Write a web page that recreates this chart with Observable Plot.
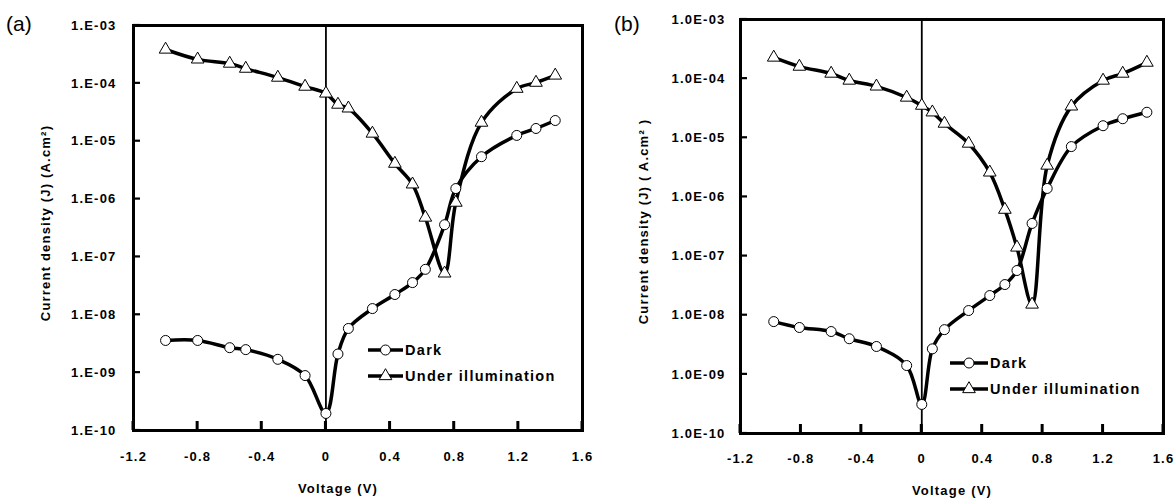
<!DOCTYPE html>
<html>
<head>
<meta charset="utf-8">
<script src="https://cdn.jsdelivr.net/npm/d3@7"></script>
<script src="https://cdn.jsdelivr.net/npm/@observablehq/plot@0.6"></script>
<style>
  html, body { margin: 0; padding: 0; background: #fff; }
  #root { position: relative; width: 1175px; height: 500px; overflow: hidden; font-family: "Liberation Sans", Arial, sans-serif; }
  .panel { position: absolute; top: 0; }
  .panel svg { overflow: visible; }
  .plabel { position: absolute; font-size: 21px; font-family: "Liberation Sans", Arial, sans-serif; color: #000; line-height: 1; }
  #overlay { position: absolute; left: 0; top: 0; pointer-events: none; }
</style>
</head>
<body>
<div id="root"></div>
<script>
// ---- data ----
const voltageA = [-1.0, -0.8, -0.6, -0.5, -0.3, -0.13, 0, 0.075, 0.14, 0.29, 0.43, 0.54, 0.62, 0.74, 0.81, 0.97, 1.19, 1.31, 1.43];
const darkA    = [3.6e-9, 3.6e-9, 2.7e-9, 2.5e-9, 1.7e-9, 8.9e-10, 1.97e-10, 2.1e-9, 5.8e-9, 1.28e-8, 2.24e-8, 3.6e-8, 6.1e-8, 3.6e-7, 1.52e-6, 5.4e-6, 1.26e-5, 1.66e-5, 2.28e-5];
const lightA   = [3.85e-4, 2.6e-4, 2.2e-4, 1.8e-4, 1.26e-4, 8.8e-5, 6.7e-5, 4.3e-5, 3.7e-5, 1.36e-5, 4.1e-6, 1.8e-6, 4.8e-7, 5.2e-8, 8.7e-7, 2.1e-5, 8.1e-5, 1.03e-4, 1.37e-4];

const voltageB = [-0.98, -0.81, -0.6, -0.48, -0.3, -0.1, 0, 0.07, 0.15, 0.31, 0.45, 0.55, 0.63, 0.73, 0.83, 0.99, 1.2, 1.33, 1.49];
const darkB    = [7.8e-9, 6.2e-9, 5.3e-9, 4.0e-9, 2.96e-9, 1.41e-9, 3.1e-10, 2.7e-9, 5.7e-9, 1.2e-8, 2.15e-8, 3.3e-8, 5.7e-8, 3.56e-7, 1.39e-6, 7.1e-6, 1.6e-5, 2.1e-5, 2.7e-5];
const lightB   = [2.28e-4, 1.6e-4, 1.22e-4, 9.3e-5, 7.4e-5, 4.8e-5, 3.5e-5, 2.7e-5, 1.74e-5, 8.0e-6, 2.6e-6, 6.1e-7, 1.4e-7, 1.52e-8, 3.4e-6, 3.4e-5, 9.3e-5, 1.22e-4, 1.87e-4];

const xTicks = [-1.2, -0.8, -0.4, 0, 0.4, 0.8, 1.2, 1.6];
const yTicks = [1e-3, 1e-4, 1e-5, 1e-6, 1e-7, 1e-8, 1e-9, 1e-10];
const seriesNames = ["Dark", "Under illumination"];
const xLabel = "Voltage (V)";
const yLabelA = "Current density (J) (A.cm²)";
const yLabelB = "Current density (J) ( A.cm² )";
const panelLabels = ["(a)", "(b)"];

// ---- helpers ----
const expOf = d => String(-Math.round(Math.log10(d))).padStart(2, "0");
const fmtYA = d => "1.E-" + expOf(d);
const fmtYB = d => "1.0E-" + expOf(d);
const fmtX = d => d === 0 ? "0" : d.toFixed(1);
const TRI_R = 4.7, CIR_R = 5;

function rows(v, ys) { return v.map((x, i) => ({x, y: ys[i]})); }

function panel(cfg) {
  const dark = rows(cfg.v, cfg.dark), light = rows(cfg.v, cfg.light);
  return Plot.plot({
    width: cfg.width, height: 500,
    marginLeft: cfg.ml, marginTop: cfg.mt, marginRight: cfg.mr, marginBottom: cfg.mb,
    style: "font-family: 'Liberation Sans', Arial, sans-serif; font-size: 13px; font-weight: bold; letter-spacing: 1.2px; color: #000; background: transparent; overflow: visible;",
    x: {domain: [-1.2, 1.6]},
    y: {type: "log", domain: [1e-10, 1e-3]},
    marks: [
      Plot.ruleX([0], {stroke: "#000", strokeWidth: 1.8}),
      Plot.line(dark, {x: "x", y: "y", curve: "catmull-rom", stroke: "#000", strokeWidth: 3.5}),
      Plot.line(light, {x: "x", y: "y", curve: "catmull-rom", stroke: "#000", strokeWidth: 3.5}),
      Plot.dot(dark, {x: "x", y: "y", symbol: "circle", r: CIR_R, fill: "#fff", stroke: "#000", strokeWidth: 1}),
      Plot.dot(light, {x: "x", y: "y", symbol: "triangle", r: TRI_R, fill: "#fff", stroke: "#000", strokeWidth: 1}),
      Plot.frame({stroke: "#000", strokeWidth: 3}),
      Plot.axisY({ticks: yTicks, tickFormat: cfg.fmtY, tickSize: 0, tickPadding: cfg.tpy, label: null}),
      Plot.axisX({ticks: xTicks, tickFormat: fmtX, tickSize: 0, tickPadding: cfg.tpx, label: null}),
      Plot.text([cfg.yLabel], {frameAnchor: "left", textAnchor: "middle", lineAnchor: "middle", rotate: -90, dx: cfg.ylDx, dy: cfg.ylDy, fontWeight: "bold", fontSize: 13}),
      Plot.text([xLabel], {frameAnchor: "bottom", textAnchor: "middle", lineAnchor: "middle", dx: cfg.xlDx, dy: cfg.xlDy, fontWeight: "bold", fontSize: 13})
    ]
  });
}

const root = document.getElementById("root");

const cfgA = {v: voltageA, dark: darkA, light: lightA, width: 590, ml: 133, mt: 25, mr: 8, mb: 70, left: 0,
  fmtY: fmtYA, tpy: 17, tpx: 21, yLabel: yLabelA, ylDx: -88, ylDy: -5, xlDx: -20, xlDy: 58};
const cfgB = {v: voltageB, dark: darkB, light: lightB, width: 585, ml: 150, mt: 19, mr: 12, mb: 67, left: 590,
  fmtY: fmtYB, tpy: 15, tpx: 20, yLabel: yLabelB, ylDx: -97, ylDy: -5, xlDx: 0, xlDy: 57};
const plots = [cfgA, cfgB].map(cfg => {
  const p = panel(cfg);
  const w = document.createElement("div"); w.className = "panel"; w.style.left = cfg.left + "px";
  w.appendChild(p); root.appendChild(w);
  return {p, cfg};
});

// panel letters
[[6, 13], [614, 13]].forEach(([l, t], i) => {
  const d = document.createElement("div"); d.className = "plabel";
  d.style.left = l + "px"; d.style.top = t + "px"; d.textContent = panelLabels[i];
  root.appendChild(d);
});

// overlay: inward tick marks (positioned with each plot's own scales) and legends
const ov = d3.select(root).append("svg").attr("id", "overlay").attr("width", 1175).attr("height", 500);
plots.forEach(({p, cfg}) => {
  const sx = p.scale("x"), sy = p.scale("y");
  const x0 = cfg.left + sx.apply(-1.2), yb = sy.apply(1e-10);
  xTicks.forEach(t => {
    const x = cfg.left + sx.apply(t);
    ov.append("line").attr("x1", x).attr("x2", x).attr("y1", yb).attr("y2", yb - 9)
      .attr("stroke", "#000").attr("stroke-width", 3);
  });
  yTicks.forEach(t => {
    const y = sy.apply(t);
    ov.append("line").attr("x1", x0).attr("x2", x0 + 7).attr("y1", y).attr("y2", y)
      .attr("stroke", "#000").attr("stroke-width", 2.2);
  });
});

const legends = [{x1: 368, x2: 403, y0: 350, dy: 26}, {x1: 950, x2: 988, y0: 363, dy: 26}];
legends.forEach(L => {
  seriesNames.forEach((name, i) => {
    const y = L.y0 + i * L.dy, cx = (L.x1 + L.x2) / 2;
    ov.append("line").attr("x1", L.x1).attr("x2", L.x2).attr("y1", y).attr("y2", y)
      .attr("stroke", "#000").attr("stroke-width", 3.5);
    const r = i === 0 ? CIR_R : TRI_R;
    ov.append("path").attr("d", d3.symbol(i === 0 ? d3.symbolCircle : d3.symbolTriangle, Math.PI * r * r)())
      .attr("transform", `translate(${cx},${y})`).attr("fill", "#fff").attr("stroke", "#000");
    ov.append("text").attr("x", L.x2 + 2).attr("y", y).attr("dy", "0.35em")
      .attr("font-family", "'Liberation Sans', Arial, sans-serif").attr("font-size", 14.5).attr("font-weight", "bold")
      .attr("letter-spacing", "1.3px").text(name);
  });
});
</script>
</body>
</html>
